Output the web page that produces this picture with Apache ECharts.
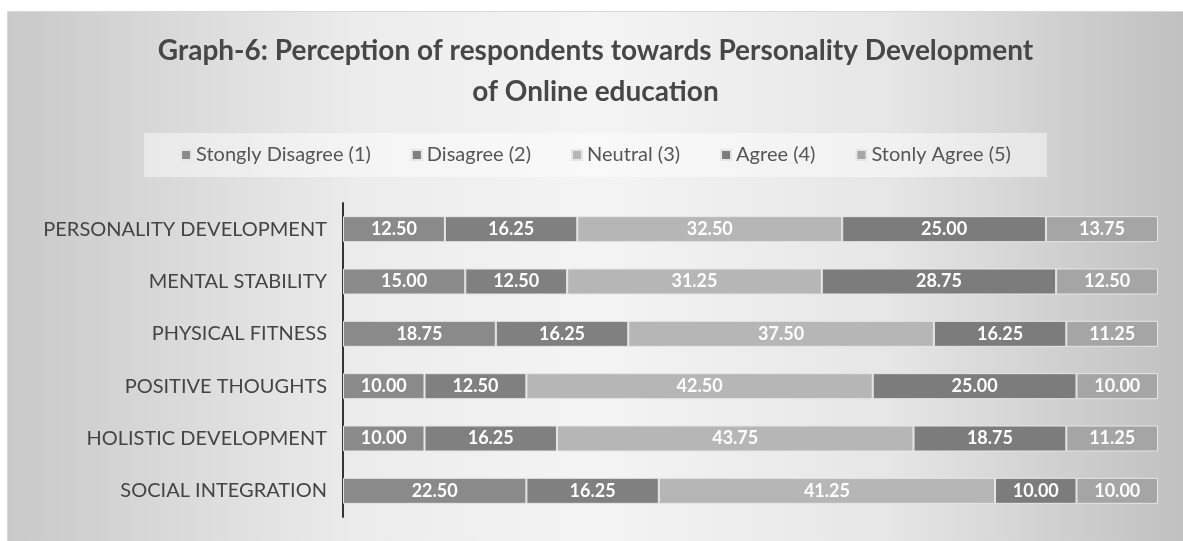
<!DOCTYPE html>
<html>
<head>
<meta charset="utf-8">
<script src="https://cdn.jsdelivr.net/npm/echarts@6/dist/echarts.min.js"></script>
<style>
  html, body { margin: 0; padding: 0; background: #fff; }
  #main { position: absolute; left: 7px; top: 11px; width: 1176px; height: 530px; border-top: 1px solid #d8d8d8; border-left: 1px solid #d8d8d8; box-sizing: border-box; }
</style>
</head>
<body>
<div id="main"></div>
<script>
var categories = ['PERSONALITY DEVELOPMENT', 'MENTAL STABILITY', 'PHYSICAL FITNESS', 'POSITIVE THOUGHTS', 'HOLISTIC DEVELOPMENT', 'SOCIAL INTEGRATION'];
var seriesNames = ['Stongly Disagree (1)', 'Disagree (2)', 'Neutral (3)', 'Agree (4)', 'Stonly Agree (5)'];
var stronglyDisagree = [12.50, 15.00, 18.75, 10.00, 10.00, 22.50];
var disagree = [16.25, 12.50, 16.25, 12.50, 16.25, 16.25];
var neutral = [32.50, 31.25, 37.50, 42.50, 43.75, 41.25];
var agree = [25.00, 28.75, 16.25, 25.00, 18.75, 10.00];
var stronglyAgree = [13.75, 12.50, 11.25, 10.00, 11.25, 10.00];
var colors = ['#8a8a8a', '#808080', '#b6b6b6', '#7c7c7c', '#a5a5a5'];

var chart = echarts.init(document.getElementById('main'));
var values = [stronglyDisagree, disagree, neutral, agree, stronglyAgree];
var series = values.map(function (v, i) {
    return {
        name: seriesNames[i],
        type: 'bar',
        stack: 'total',
        data: v,
        barWidth: 26,
        itemStyle: { color: colors[i], borderColor: '#e6e6e6', borderWidth: 1 },
        label: {
            show: true,
            position: 'inside',
            color: '#fff',
            fontFamily: 'Lato',
            fontWeight: 'bold',
            fontSize: 18,
            formatter: function (p) { return p.value.toFixed(2); }
        }
    };
});

chart.setOption({
    backgroundColor: {
        type: 'linear', x: 0, y: 0, x2: 1, y2: 0,
        colorStops: [
            { offset: 0, color: '#c9c9c9' },
            { offset: 0.3, color: '#ececec' },
            { offset: 0.5, color: '#f4f4f4' },
            { offset: 0.75, color: '#e6e6e6' },
            { offset: 1, color: '#c0c0c0' }
        ]
    },
    title: {
        text: 'Graph-6: Perception of respondents towards Personality Development\nof Online education',
        left: 'center',
        top: 13,
        textStyle: { fontFamily: 'Lato', fontSize: 28, fontWeight: 'bold', color: '#474747', lineHeight: 41 }
    },
    legend: {
        top: 121,
        left: 'center',
        itemWidth: 10,
        itemHeight: 10,
        itemGap: 40,
        icon: 'rect',
        padding: [12, 36],
        backgroundColor: 'rgba(255,255,255,0.45)',
        textStyle: { fontFamily: 'Lato', fontSize: 20, color: '#555' },
        data: seriesNames
    },
    grid: { left: 335, right: 25, top: 191, bottom: 24 },
    xAxis: {
        type: 'value', min: 0, max: 100, show: false
    },
    yAxis: {
        type: 'category',
        data: categories,
        inverse: true,
        axisLine: { show: true, lineStyle: { color: '#333', width: 2 } },
        axisTick: { show: false },
        axisLabel: { fontFamily: 'Lato', fontSize: 20, color: '#444', margin: 16 }
    },
    series: series
});
</script>
</body>
</html>
